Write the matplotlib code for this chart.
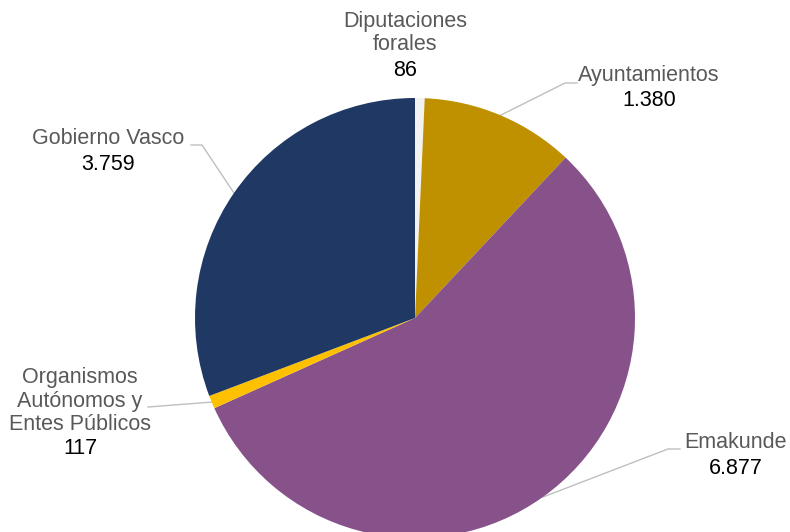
import numpy as np
import matplotlib.pyplot as plt

plt.rcParams['font.family'] = ['Liberation Sans', 'DejaVu Sans']

# Data
categories = ['Diputaciones\nforales', 'Ayuntamientos', 'Emakunde',
              'Organismos\nAutónomos y\nEntes Públicos', 'Gobierno Vasco']
values = [86, 1380, 6877, 117, 3759]
value_labels = ['86', '1.380', '6.877', '117', '3.759']
colors = ['#F2F2F2', '#BF9000', '#87528A', '#FFC000', '#203864']

W, H = 790, 532
fig = plt.figure(figsize=(W / 100, H / 100), dpi=100)
ax = fig.add_axes([0, 0, 1, 1])
ax.set_xlim(0, W)
ax.set_ylim(0, H)
ax.axis('off')

cx, cy, r = 415, H - 318, 220
wedges, _ = ax.pie(values, colors=colors, startangle=90, counterclock=False,
                   radius=r, center=(cx, cy), frame=True,
                   wedgeprops=dict(linewidth=0))
ax.set_xlim(0, W)
ax.set_ylim(0, H)
ax.axis('off')

# label placement in pixel coords (x centre, y of first line), leader bend points
label_pos = [(405, 22), (649, 76), (736, 443), (80, 378), (108, 139)]
leaders = [None,
           [(565, 83), (577, 83)],
           [(668, 449), (680, 449)],
           [(148, 407)],
           [(202, 145), (191, 145)]]

gray = '#595959'
fs = 15.5
line_h = 23
for w, name, val, (lx, ly), lead in zip(wedges, categories, value_labels, label_pos, leaders):
    lines = name.split('\n')
    for k, ln in enumerate(lines):
        ax.text(lx, H - (ly + k * line_h), ln, ha='center', va='center',
                color=gray, fontsize=fs)
    ax.text(lx, H - (ly + len(lines) * line_h + 2), val, ha='center', va='center',
            color='black', fontsize=fs)
    if lead is not None:
        ang = np.deg2rad((w.theta1 + w.theta2) / 2)
        pts = [(cx + r * np.cos(ang), cy + r * np.sin(ang))]
        pts += [(px, H - py) for px, py in lead]
        xs, ys = zip(*pts)
        ax.plot(xs, ys, color='#BFBFBF', lw=1, zorder=0.5)

fig.savefig('out.png', dpi=100)
